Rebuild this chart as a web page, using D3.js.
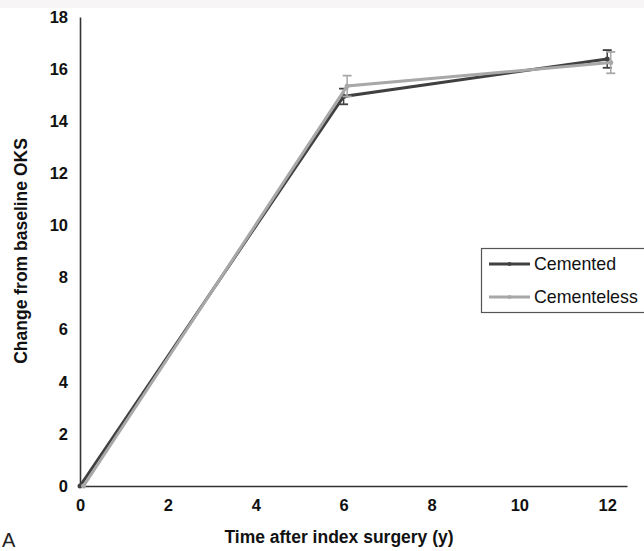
<!DOCTYPE html>
<html lang="en">
<head>
  <meta charset="UTF-8" />
  <title>Change from baseline OKS</title>
  <script src="https://d3js.org/d3.v7.min.js"></script>
  <style>
    body { margin: 0; background: #fff; font-family: "Liberation Sans", Arial, sans-serif; }
    svg { display: block; }
  </style>
</head>
<body>
  <svg id="chart" width="644" height="551"></svg>
  <script>
    // Datos
    const seriesNames = ["Cemented", "Cementeless"];
    const cementedX = [0, 6, 12];
    const cementedY = [0, 14.95, 16.39];
    const cementedErr = [0, 0.3, 0.34];
    const cementlessX = [0.08, 6.08, 12.08];
    const cementlessY = [0, 15.35, 16.25];
    const cementlessErr = [0, 0.4, 0.41];
    const xTicks = [0, 2, 4, 6, 8, 10, 12];
    const yTicks = [0, 2, 4, 6, 8, 10, 12, 14, 16, 18];
    const colors = ["#404040", "#a8a8a8"];

    const svg = d3.select("#chart");
    const x = d3.scaleLinear().domain([0, 12.45]).range([80, 627]);
    const y = d3.scaleLinear().domain([0, 18]).range([486, 17]);

    // franja gris superior
    svg.append("rect").attr("x", 0).attr("y", 0).attr("width", 644).attr("height", 8).attr("fill", "#f7f5f5");

    // ejes
    const xAxis = svg.append("g").attr("transform", "translate(0,486)")
      .call(d3.axisBottom(x).tickValues(xTicks).tickSize(0).tickPadding(13));
    const yAxis = svg.append("g").attr("transform", "translate(80,0)")
      .call(d3.axisLeft(y).tickValues(yTicks).tickSize(0).tickPadding(12));
    [xAxis, yAxis].forEach(g => {
      g.select(".domain").attr("stroke", "#333").attr("stroke-width", 1.6);
      g.selectAll("text").attr("font-family", "Liberation Sans, Arial, sans-serif")
        .attr("font-size", 16.5).attr("font-weight", "bold").attr("fill", "#111");
    });

    const series = [
      { xs: cementedX, ys: cementedY, es: cementedErr },
      { xs: cementlessX, ys: cementlessY, es: cementlessErr }
    ];

    const line = d3.line().x(d => x(d.x)).y(d => y(d.y));
    series.forEach((s, i) => {
      const pts = s.xs.map((v, j) => ({ x: v, y: s.ys[j], e: s.es[j] }));
      const g = svg.append("g");
      g.append("path").datum(pts).attr("d", line).attr("fill", "none")
        .attr("stroke", colors[i]).attr("stroke-width", 3);
      // barras de error
      pts.filter(p => p.e > 0).forEach(p => {
        g.append("line").attr("x1", x(p.x)).attr("x2", x(p.x))
          .attr("y1", y(p.y - p.e)).attr("y2", y(p.y + p.e))
          .attr("stroke", colors[i]).attr("stroke-width", 1.5);
        [p.y - p.e, p.y + p.e].forEach(v => {
          g.append("line").attr("x1", x(p.x) - 4.5).attr("x2", x(p.x) + 4.5)
            .attr("y1", y(v)).attr("y2", y(v))
            .attr("stroke", colors[i]).attr("stroke-width", 1.8);
        });
      });
      g.selectAll("circle").data(pts).enter().append("circle")
        .attr("cx", d => x(d.x)).attr("cy", d => y(d.y)).attr("r", 2.5)
        .attr("fill", colors[i]);
    });

    // leyenda
    const leg = svg.append("g");
    leg.append("rect").attr("x", 481.5).attr("y", 248.5).attr("width", 170).attr("height", 64)
      .attr("fill", "#fff").attr("stroke", "#555").attr("stroke-width", 1.2);
    seriesNames.forEach((n, i) => {
      const ly = 264 + i * 33;
      leg.append("line").attr("x1", 489).attr("x2", 530).attr("y1", ly).attr("y2", ly)
        .attr("stroke", colors[i]).attr("stroke-width", 3);
      leg.append("circle").attr("cx", 509.5).attr("cy", ly).attr("r", 2).attr("fill", colors[i]);
      leg.append("text").attr("x", 534).attr("y", ly + 6).text(n)
        .attr("font-size", 17.8).attr("fill", "#111");
    });

    // títulos de ejes
    svg.append("text").attr("x", 339).attr("y", 543).attr("text-anchor", "middle")
      .attr("font-size", 17.5).attr("font-weight", "bold").attr("fill", "#111")
      .text("Time after index surgery (y)");
    svg.append("text").attr("transform", "translate(27,251) rotate(-90)").attr("text-anchor", "middle")
      .attr("font-size", 17.5).attr("font-weight", "bold").attr("fill", "#111")
      .text("Change from baseline OKS");
    svg.append("text").attr("x", 2).attr("y", 547).attr("font-size", 20).attr("fill", "#222").text("A");
  </script>
</body>
</html>
